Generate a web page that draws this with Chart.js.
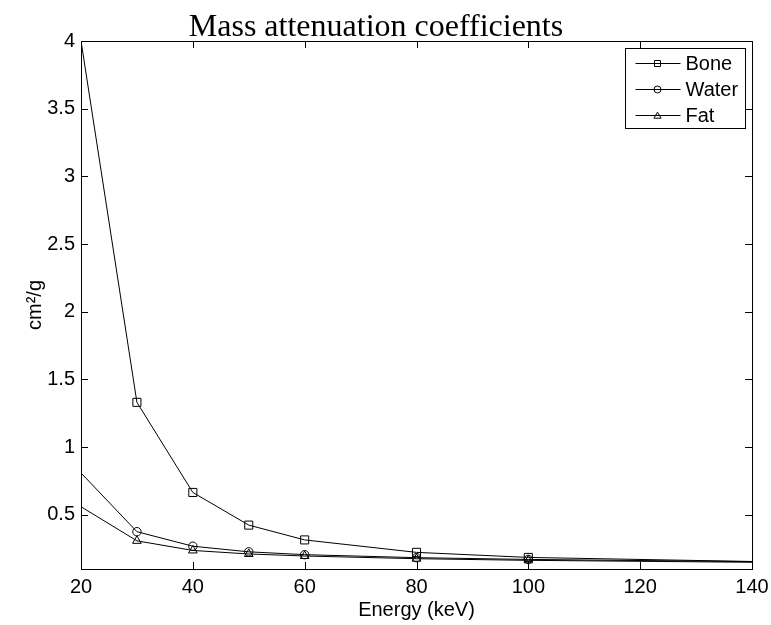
<!DOCTYPE html>
<html>
<head>
<meta charset="utf-8">
<script src="https://cdn.jsdelivr.net/npm/chart.js@4"></script>
<style>
  html, body { margin: 0; padding: 0; background: #fff; }
  #wrap { width: 771px; height: 625px; }
</style>
</head>
<body>
<div id="wrap"><canvas id="massChart" width="771" height="625"></canvas></div>
<script>
// Photon energies (keV) and mass attenuation coefficients (cm^2/g)
const energies = [20, 30, 40, 50, 60, 80, 100, 150];
const bone  = [4.001, 1.331, 0.6655, 0.4242, 0.3148, 0.2229, 0.1855, 0.148];
const water = [0.8096, 0.3756, 0.2683, 0.2269, 0.2059, 0.1837, 0.1707, 0.1505];
const fat   = [0.56, 0.308, 0.237, 0.211, 0.196, 0.176, 0.164, 0.146];

const xTicks = [20, 40, 60, 80, 100, 120, 140];
const yTicks = [0.5, 1, 1.5, 2, 2.5, 3, 3.5, 4];

const toPoints = vals => energies.map((e, i) => ({ x: e, y: vals[i] }));

Chart.defaults.font.family = "'Liberation Sans', Arial, sans-serif";
Chart.defaults.font.size = 20;
Chart.defaults.color = '#000';

// markers only on measured points inside the plot, not at the clipped ends
const markerRadius = r => c => (c.parsed.x > 20 && c.parsed.x < 140) ? r : 0;

function series(label, vals, style, r) {
    return {
        label: label,
        data: toPoints(vals),
        borderColor: '#000',
        borderWidth: 1,
        pointStyle: style,
        pointRadius: markerRadius(r),
        pointBorderColor: '#000',
        pointBorderWidth: 1,
        pointBackgroundColor: 'rgba(0,0,0,0)',
        tension: 0,
        fill: false
    };
}

// MATLAB-like box with ticks pointing inwards
const boxAxes = {
    id: 'boxAxes',
    afterDraw(chart) {
        const { ctx, chartArea: a, scales } = chart;
        const len = 7;
        ctx.save();
        ctx.strokeStyle = '#000';
        ctx.lineWidth = 1;
        ctx.beginPath();
        xTicks.forEach(v => {
            const px = Math.round(scales.x.getPixelForValue(v)) + 0.5;
            ctx.moveTo(px, a.bottom); ctx.lineTo(px, a.bottom - len);
            ctx.moveTo(px, a.top); ctx.lineTo(px, a.top + len);
        });
        yTicks.forEach(v => {
            const py = Math.round(scales.y.getPixelForValue(v)) + 0.5;
            ctx.moveTo(a.left, py); ctx.lineTo(a.left + len, py);
            ctx.moveTo(a.right, py); ctx.lineTo(a.right - len, py);
        });
        ctx.stroke();
        ctx.strokeRect(Math.round(a.left) + 0.5, Math.round(a.top) + 0.5,
                       Math.round(a.right - a.left), Math.round(a.bottom - a.top));
        ctx.restore();
    }
};

function drawMarker(ctx, style, x, y, r) {
    ctx.beginPath();
    if (style === 'rect') {
        ctx.rect(x - r, y - r, 2 * r, 2 * r);
    } else if (style === 'circle') {
        ctx.arc(x, y, r, 0, Math.PI * 2);
    } else {
        ctx.moveTo(x, y - r * 1.1);
        ctx.lineTo(x + r * 1.2, y + r * 0.9);
        ctx.lineTo(x - r * 1.2, y + r * 0.9);
        ctx.closePath();
    }
    ctx.stroke();
}

// legend box in the upper right corner of the axes
const boxLegend = {
    id: 'boxLegend',
    afterDraw(chart) {
        const { ctx, chartArea: a } = chart;
        const w = 120, h = 80;
        const left = Math.round(a.right - 7 - w) + 0.5;
        const top = Math.round(a.top + 7) + 0.5;
        ctx.save();
        ctx.fillStyle = '#fff';
        ctx.fillRect(left, top, w, h);
        ctx.strokeStyle = '#000';
        ctx.lineWidth = 1;
        ctx.strokeRect(left, top, w, h);
        ctx.font = "20px 'Liberation Sans', Arial, sans-serif";
        ctx.textBaseline = 'middle';
        ctx.fillStyle = '#000';
        chart.data.datasets.forEach((ds, i) => {
            const y = top + 15 + i * 26;
            ctx.beginPath();
            ctx.moveTo(left + 10, y); ctx.lineTo(left + 55, y);
            ctx.stroke();
            drawMarker(ctx, ds.pointStyle, left + 32, y, ds.pointStyle === 'circle' ? 3.5 : 3);
            ctx.fillText(ds.label, left + 60, y + 1);
        });
        ctx.restore();
    }
};

new Chart(document.getElementById('massChart').getContext('2d'), {
    type: 'line',
    data: {
        datasets: [
            series('Bone', bone, 'rect', 5.7),
            series('Water', water, 'circle', 4.2),
            series('Fat', fat, 'triangle', 5)
        ]
    },
    options: {
        responsive: false,
        animation: false,
        layout: { autoPadding: false, padding: { left: 0, right: 19, top: 0, bottom: 0 } },
        plugins: {
            legend: { display: false },
            tooltip: { enabled: false },
            title: {
                display: true,
                text: 'Mass attenuation coefficients',
                color: '#000',
                font: { family: "'Liberation Serif', 'Times New Roman', serif", size: 32, weight: 'normal', lineHeight: 0.84375 },
                padding: { top: 14, bottom: 0 }
            }
        },
        scales: {
            x: {
                type: 'linear',
                min: 20,
                max: 140,
                grid: { display: false, drawTicks: false },
                border: { display: false },
                ticks: { padding: 6, font: { size: 20 } },
                afterBuildTicks: s => { s.ticks = xTicks.map(v => ({ value: v })); },
                afterFit: s => { s.height = 56; s.paddingLeft = 0; s.paddingRight = 0; },
                title: { display: true, text: 'Energy (keV)', font: { size: 20, lineHeight: 1.2 }, padding: { top: 0, bottom: 3 } }
            },
            y: {
                min: 0.1,
                max: 4,
                grid: { display: false, drawTicks: false },
                border: { display: false },
                ticks: { padding: 6, font: { size: 20 }, callback: v => String(v) },
                afterBuildTicks: s => { s.ticks = yTicks.map(v => ({ value: v })); },
                afterFit: s => { s.width = 81; s.paddingTop = 0; s.paddingBottom = 0; },
                title: { display: true, text: 'cm²/g', font: { size: 20, lineHeight: 1.2 }, padding: { top: 23, bottom: 0 } }
            }
        }
    },
    plugins: [boxAxes, boxLegend]
});
</script>
</body>
</html>
